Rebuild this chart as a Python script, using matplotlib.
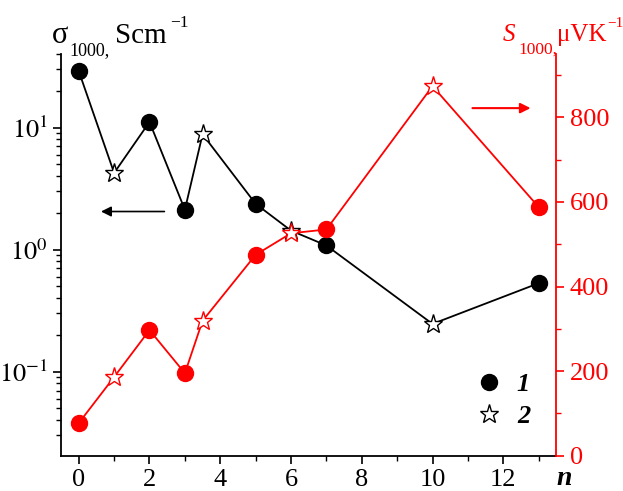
import numpy as np
import matplotlib
matplotlib.use('Agg')
import matplotlib.pyplot as plt
from matplotlib.ticker import FixedLocator, MultipleLocator, LogLocator, NullFormatter
from matplotlib.lines import Line2D

plt.rcParams['font.family'] = 'Liberation Serif'
plt.rcParams['mathtext.fontset'] = 'stix'

# n values for the two sample types
n_circ = [0, 2, 3, 5, 7, 13]
n_star = [1, 3.5, 6, 10]

# conductivity sigma_1000, S/cm
sig_circ = [29, 11.1, 2.12, 2.37, 1.08, 0.53]
sig_star = [4.24, 8.8, 1.43, 0.246]

# Seebeck coefficient S_1000, uV/K
S_circ = [77, 297, 195, 475, 535, 588]
S_star = [186, 319, 526, 874]

red = '#ff0000'
W, H = 623, 491

def merged(xa, ya, xb, yb):
    x = np.r_[xa, xb]
    y = np.r_[ya, yb]
    o = np.argsort(x)
    return x[o], y[o]

def ptext(x, y, s, **kw):
    # place text by pixel position (from top-left), baseline aligned
    fig.text(x / W, 1 - y / H, s, ha='left', va='baseline', **kw)

fig = plt.figure(figsize=(6.23, 4.91), dpi=100)
ax = fig.add_axes([0.098, 0.072, 0.795, 0.818])
ax2 = ax.twinx()

# left axis: sigma (black)
xs, ys = merged(n_circ, sig_circ, n_star, sig_star)
ax.plot(xs, ys, color='k', lw=1.3, zorder=2)
ax.plot(n_circ, sig_circ, 'o', color='k', ms=11.5, zorder=3)
ax.plot(n_star, sig_star, '*', mfc='white', mec='k', mew=1.0, ms=14, zorder=3)
ax.set_yscale('log')
ax.set_ylim(0.0205, 40)
ax.set_xlim(-0.5, 13.5)

# right axis: S (red)
xs, ys = merged(n_circ, S_circ, n_star, S_star)
ax2.plot(xs, ys, color=red, lw=1.3, zorder=2)
ax2.plot(n_circ, S_circ, 'o', color=red, ms=11.5, zorder=3)
ax2.plot(n_star, S_star, '*', mfc='white', mec=red, mew=1.0, ms=14, zorder=3)
ax2.set_ylim(0, 950)

# ticks
ax.yaxis.set_major_locator(FixedLocator([0.1, 1, 10]))
ax.set_yticklabels([r'$10^{-1}$', r'$10^{0}$', r'$10^{1}$'])
ax.yaxis.set_minor_locator(LogLocator(base=10, subs=np.arange(2, 10)))
ax.yaxis.set_minor_formatter(NullFormatter())
ax.xaxis.set_major_locator(MultipleLocator(2))
ax.xaxis.set_minor_locator(MultipleLocator(1))
ax.tick_params(axis='both', which='major', direction='out', length=6, width=1.2,
               labelsize=19, colors='k')
ax.tick_params(axis='both', which='minor', direction='out', length=3.5, width=1.0)
ax.tick_params(axis='y', which='both', right=False)

ax2.yaxis.set_major_locator(MultipleLocator(200))
ax2.yaxis.set_minor_locator(MultipleLocator(100))
ax2.tick_params(axis='y', which='major', direction='out', length=6, width=1.2,
                labelsize=19, colors=red)
ax2.tick_params(axis='y', which='minor', direction='out', length=3.5, width=1.0, colors=red)

for a in (ax, ax2):
    a.spines['top'].set_visible(False)
    for s in a.spines.values():
        s.set_linewidth(1.3)
ax2.spines['right'].set_color(red)
ax2.spines['left'].set_visible(False)
ax2.spines['bottom'].set_visible(False)
ax.spines['right'].set_visible(False)

# axis titles, built piece by piece like the original
ptext(52, 43, 'σ', fontsize=22, color='k')
ptext(69, 55, '1000,', fontsize=13, color='k')
ptext(115, 43, 'Scm', fontsize=21, color='k')
ptext(170, 27, '\u22121', fontsize=12.5, color='k')

ptext(503, 41, 'S', fontsize=18, style='italic', color=red)
ptext(518, 54, '1000,', fontsize=12.5, color=red)
ptext(557, 41, 'μVK', fontsize=18, color=red)
ptext(607, 27, '\u22121', fontsize=11, color=red)

ptext(556, 485, 'n', fontsize=20, fontweight='bold', style='italic', color='k')

# arrows pointing to axes
ax.annotate('', xy=(0.55, 2.05), xytext=(2.5, 2.05),
            arrowprops=dict(arrowstyle='-|>', color='k', lw=1.2, mutation_scale=15))
ax2.annotate('', xy=(12.85, 822), xytext=(11.05, 822),
             arrowprops=dict(arrowstyle='-|>', color=red, lw=1.5, mutation_scale=15))

# legend
h1 = Line2D([], [], ls='none', marker='o', color='k', ms=11.5)
h2 = Line2D([], [], ls='none', marker='*', mfc='white', mec='k', mew=1.0, ms=14)
leg = ax2.legend([h1, h2], ['1', '2'], loc='lower right', bbox_to_anchor=(0.995, 0.01),
                 frameon=False, handlelength=1.0, handletextpad=0.55, labelspacing=0.3,
                 prop=dict(family='Liberation Serif', size=19, weight='bold', style='italic'))

fig.savefig('out.png', dpi=100)
